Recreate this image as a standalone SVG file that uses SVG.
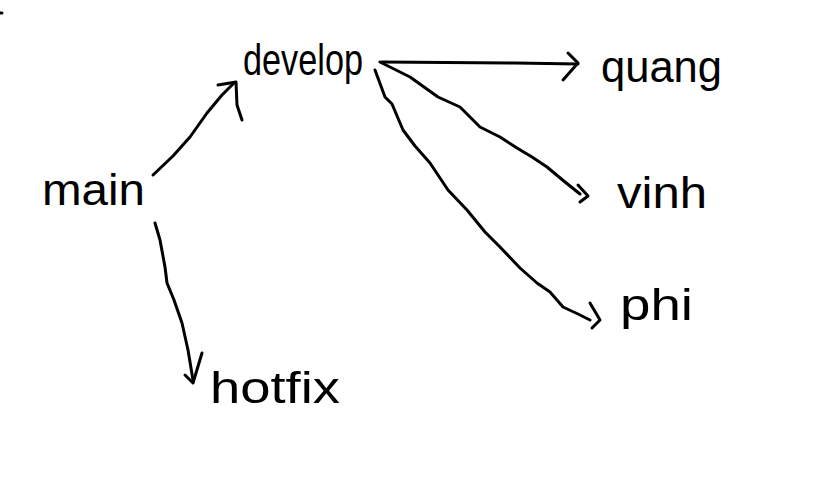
<svg xmlns="http://www.w3.org/2000/svg" width="825" height="495" viewBox="0 0 825 495">
<style>
.lbl{font-family:"Liberation Sans","DejaVu Sans",sans-serif;font-size:44px;fill:#000;}
.ln{fill:none;stroke:#000;stroke-width:3;stroke-linecap:round;stroke-linejoin:round;}
</style>
<rect width="825" height="495" fill="#fff"/>
<path class="ln" d="M0,13 L2,13"/>
<g id="connectors">
<g id="main-develop"><path class="ln" d="M153,175 L173,156 L190,137 L207,113 L222,95 L234,83"/><path class="ln" d="M218,85 L236,82 L237,105 L242,120"/></g>
<g id="develop-quang"><path class="ln" d="M382,62 L515,63 L578,64"/><path class="ln" d="M568,53 L578,63 L563,80"/></g>
<g id="develop-vinh"><path class="ln" d="M380,62 L410,77 L438,97 L460,107 L480,127 L500,137 L517,148 L532,157 L547,167 L565,182 L580,194"/><path class="ln" d="M578,185 L588,196 L580,202"/></g>
<g id="develop-phi"><path class="ln" d="M375,70 L385,97 L392,104 L403,130 L415,146 L430,163 L448,190 L467,210 L485,232 L500,247 L520,268 L537,283 L550,292 L563,307 L578,314 L590,320"/><path class="ln" d="M590,303 L600,320 L592,328"/></g>
<g id="main-hotfix"><path class="ln" d="M155,223 L160,240 L165,267 L167,283 L174,300 L182,323 L188,350 L193,380"/><path class="ln" d="M185,375 L193,383 L202,353"/></g>
</g>
<g id="main"><text class="lbl" x="42" y="205" textLength="103" lengthAdjust="spacingAndGlyphs">main</text></g>
<g id="develop"><text class="lbl" x="243" y="75" textLength="120" lengthAdjust="spacingAndGlyphs">develop</text></g>
<g id="quang"><text class="lbl" x="601" y="82" font-size="40" textLength="121" lengthAdjust="spacingAndGlyphs">quang</text></g>
<g id="vinh"><text class="lbl" x="617" y="208" textLength="90" lengthAdjust="spacingAndGlyphs">vinh</text></g>
<g id="phi"><text class="lbl" x="620" y="320" textLength="73" lengthAdjust="spacingAndGlyphs">phi</text></g>
<g id="hotfix"><text class="lbl" x="210" y="403" textLength="130" lengthAdjust="spacingAndGlyphs">hotfix</text></g>
</svg>
